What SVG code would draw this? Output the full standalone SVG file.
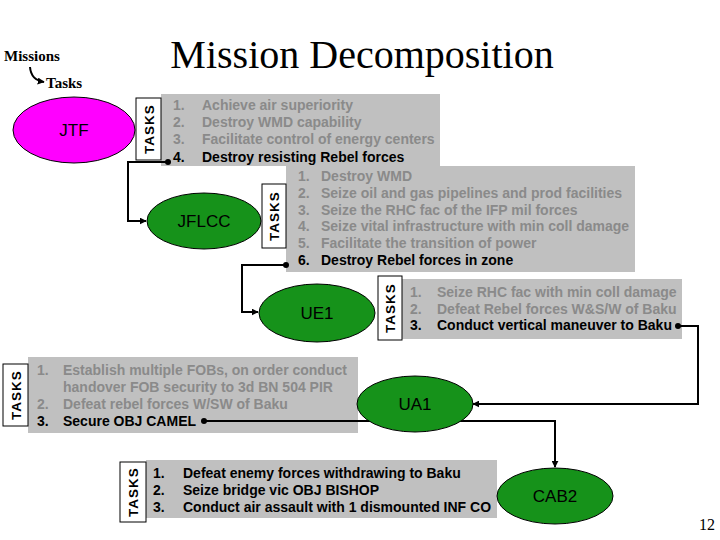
<svg xmlns="http://www.w3.org/2000/svg" width="720" height="540" viewBox="0 0 720 540">
<defs>
<style>
.t{font-family:"Liberation Sans",Arial,sans-serif;font-weight:bold;font-size:14px;fill:#000}
.g{fill:#8a8a8a}
.panel{fill:#c0c0c0}
.box{fill:#fff;stroke:#000;stroke-width:1}
.bl{font-family:"Liberation Sans",Arial,sans-serif;font-weight:bold;font-size:13.5px;letter-spacing:1px;fill:#000;text-anchor:middle}
.lbl{font-family:"Liberation Sans",Arial,sans-serif;font-size:17px;fill:#000;text-anchor:middle}
.grn{fill:#16921a;stroke:#000;stroke-width:1}
.c{fill:none;stroke:#000;stroke-width:2}
</style>
<marker id="ah" viewBox="0 0 10 10" refX="9" refY="5" markerWidth="3.5" markerHeight="3.5" orient="auto" markerUnits="strokeWidth"><path d="M0,0L10,5L0,10z" fill="#000"/></marker>
<marker id="dot" viewBox="0 0 10 10" refX="5" refY="5" markerWidth="3" markerHeight="3" markerUnits="strokeWidth"><circle cx="5" cy="5" r="5" fill="#000"/></marker>
</defs>
<rect width="720" height="540" fill="#fff"/>
<text x="362" y="68" font-family="Liberation Serif,Times New Roman,serif" font-size="40" text-anchor="middle">Mission Decomposition</text>
<text x="4" y="61" font-family="Liberation Serif,Times New Roman,serif" font-size="15" font-weight="bold">Missions</text>
<text x="46" y="88" font-family="Liberation Serif,Times New Roman,serif" font-size="15" font-weight="bold">Tasks</text>
<path d="M30,67 Q31,80 44,82" fill="none" stroke="#000" stroke-width="2" marker-end="url(#ah)"/>

<g id="jtf-tasks">
<rect class="panel" x="161" y="94" width="279" height="72"/>
<rect class="box" x="136" y="98" width="25" height="62"/>
<text class="bl" transform="translate(153.5,129) rotate(-90)">TASKS</text>
<text class="t g" x="173" y="110">1.</text><text class="t g" x="202" y="110">Achieve air superiority</text>
<text class="t g" x="173" y="127">2.</text><text class="t g" x="202" y="127">Destroy WMD capability</text>
<text class="t g" x="173" y="144">3.</text><text class="t g" x="202" y="144">Facilitate control of energy centers</text>
<text class="t" x="173" y="162">4.</text><text class="t" x="202" y="162">Destroy resisting Rebel forces</text>
</g>
<g id="jflcc-tasks">
<rect class="panel" x="286" y="166" width="349" height="106"/>
<rect class="box" x="262" y="184" width="24" height="64"/>
<text class="bl" transform="translate(278.5,216) rotate(-90)">TASKS</text>
<text class="t g" x="298" y="181">1.</text><text class="t g" x="321" y="181">Destroy WMD</text>
<text class="t g" x="298" y="198">2.</text><text class="t g" x="321" y="198">Seize oil and gas pipelines and prod facilities</text>
<text class="t g" x="298" y="215">3.</text><text class="t g" x="321" y="215">Seize the RHC fac of the IFP mil forces</text>
<text class="t g" x="298" y="231">4.</text><text class="t g" x="321" y="231">Seize vital infrastructure with min coll damage</text>
<text class="t g" x="298" y="248">5.</text><text class="t g" x="321" y="248">Facilitate the transition of power</text>
<text class="t" x="298" y="265">6.</text><text class="t" x="321" y="265">Destroy Rebel forces in zone</text>
</g>
<g id="ue1-tasks">
<rect class="panel" x="402" y="279" width="280" height="60"/>
<rect class="box" x="378" y="276" width="24" height="64"/>
<text class="bl" transform="translate(394.5,308) rotate(-90)">TASKS</text>
<text class="t g" x="410" y="297">1.</text><text class="t g" x="437" y="297">Seize RHC fac with min coll damage</text>
<text class="t g" x="410" y="314">2.</text><text class="t g" x="437" y="314">Defeat Rebel forces W&amp;S/W of Baku</text>
<text class="t" x="410" y="330">3.</text><text class="t" x="437" y="330">Conduct vertical maneuver to Baku</text>
</g>
<g id="ua1-tasks">
<rect class="panel" x="28" y="357" width="330" height="76"/>
<rect class="box" x="3" y="364" width="25" height="62"/>
<text class="bl" transform="translate(20.5,395) rotate(-90)">TASKS</text>
<text class="t g" x="37" y="375">1.</text><text class="t g" x="63" y="375">Establish multiple FOBs, on order conduct</text>
<text class="t g" x="63" y="392">handover FOB security to 3d BN 504 PIR</text>
<text class="t g" x="37" y="409">2.</text><text class="t g" x="63" y="409">Defeat rebel forces W/SW of Baku</text>
<text class="t" x="37" y="426">3.</text><text class="t" x="63" y="426">Secure OBJ CAMEL</text>
</g>
<g id="cab2-tasks">
<rect class="panel" x="146" y="460" width="351" height="58"/>
<rect class="box" x="120" y="462" width="26" height="60"/>
<text class="bl" transform="translate(138,492) rotate(-90)">TASKS</text>
<text class="t" x="153" y="478">1.</text><text class="t" x="183" y="478">Defeat enemy forces withdrawing to Baku</text>
<text class="t" x="153" y="495">2.</text><text class="t" x="183" y="495">Seize bridge vic OBJ BISHOP</text>
<text class="t" x="153" y="512">3.</text><text class="t" x="183" y="512">Conduct air assault with 1 dismounted INF CO</text>
</g>

<g id="connectors">
<polyline class="c" points="168,162 128,162 128,221 146,221" marker-start="url(#dot)" marker-end="url(#ah)"/>
<polyline class="c" points="286,265 242,265 242,312 258,312" marker-start="url(#dot)" marker-end="url(#ah)"/>
<polyline class="c" points="678,326 698,326 698,404 473,404" marker-start="url(#dot)" marker-end="url(#ah)"/>
<polyline class="c" points="204,421 555,421 555,467" marker-start="url(#dot)" marker-end="url(#ah)"/>
</g>

<g id="jtf">
<ellipse cx="74" cy="130" rx="61" ry="33" fill="#ff00ff" stroke="#000"/>
<text class="lbl" x="74" y="136">JTF</text>
</g>
<g id="jflcc">
<ellipse class="grn" cx="204" cy="221" rx="57" ry="28"/>
<text class="lbl" x="204" y="227">JFLCC</text>
</g>
<g id="ue1">
<ellipse class="grn" cx="317" cy="313" rx="58" ry="29"/>
<text class="lbl" x="317" y="319">UE1</text>
</g>
<g id="ua1">
<ellipse class="grn" cx="415" cy="404" rx="58" ry="28"/>
<text class="lbl" x="415" y="410">UA1</text>
</g>
<g id="cab2">
<ellipse class="grn" cx="555" cy="496" rx="58" ry="28"/>
<text class="lbl" x="555" y="502">CAB2</text>
</g>
<text x="715" y="530" font-family="Liberation Serif,Times New Roman,serif" font-size="16" text-anchor="end">12</text>
</svg>
